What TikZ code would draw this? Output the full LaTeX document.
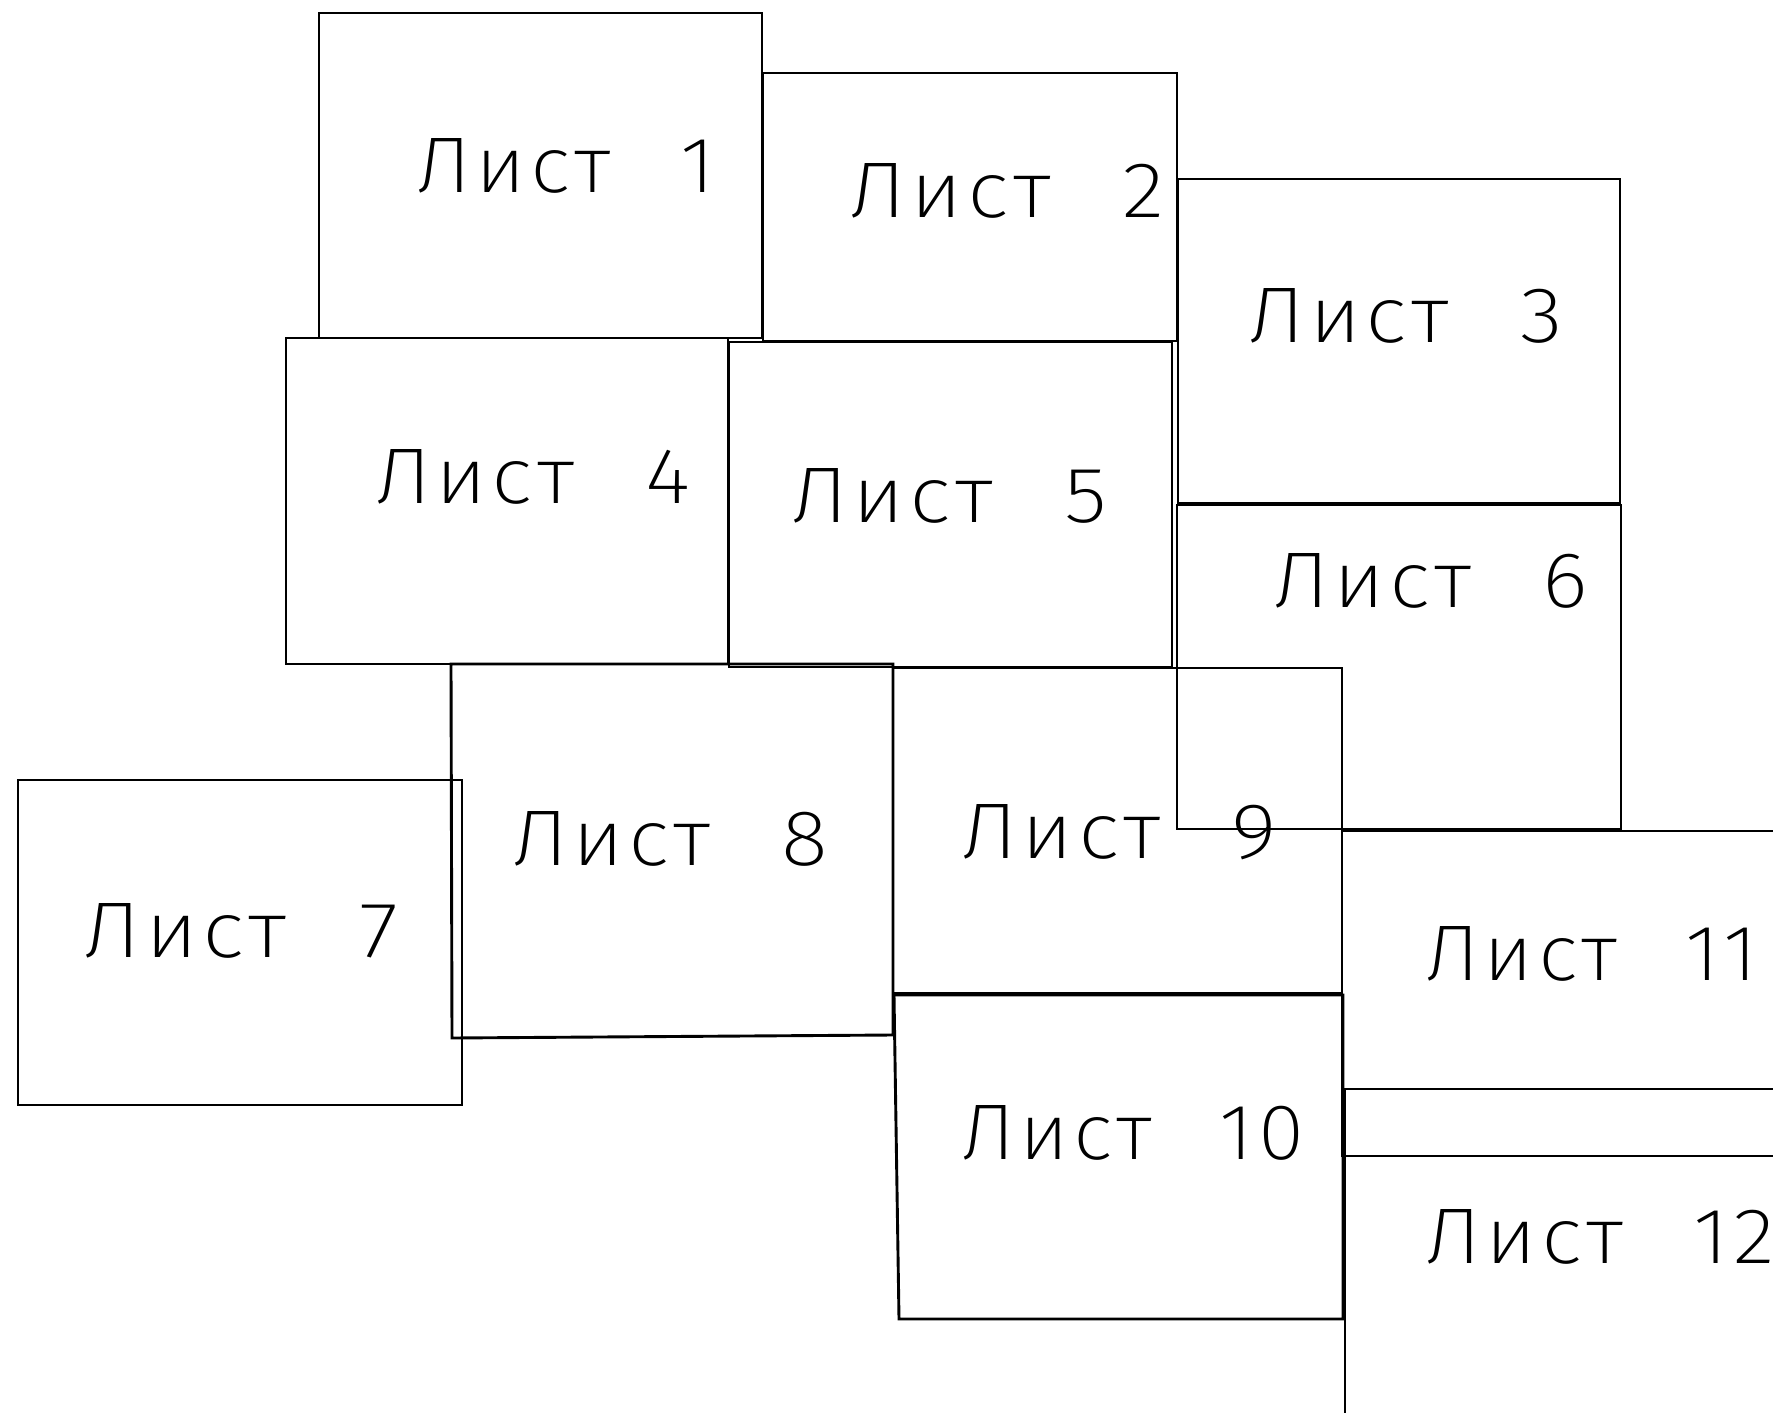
\documentclass[tikz,border=0pt]{standalone}
\usepackage{fontspec}
\IfFontExistsTF{Fira Sans ExtraLight}
  {\newfontfamily\cad[LetterSpace=5,WordSpace=2.4]{Fira Sans ExtraLight}}
  {\IfFontExistsTF{FiraSans-ExtraLight.otf}
    {\newfontfamily\cad[LetterSpace=5,WordSpace=2.4]{FiraSans-ExtraLight.otf}}
    {\newfontfamily\cad[LetterSpace=5,WordSpace=2.4]{DejaVu Sans Mono}}}
\newdimen\pxu \pxu=0.5pt
\tikzset{
  sheet/.style={draw=black, line width=1.45pt, line join=miter},
  lbl/.style={anchor=base west, inner sep=0pt, outer sep=0pt},
}
\newcommand\sheetlabel[5]{\node[lbl] (#1) at (#2,#3) {\resizebox{#4\pxu}{54\pxu}{\cad #5}};}
\begin{document}
\begin{tikzpicture}[x=0.5pt, y=-0.5pt]
\useasboundingbox (0,0) rectangle (1773,1413);
\clip (0,0) rectangle (1773,1413);
% sheets
\draw[sheet] (319,13) rectangle (762,338);          % 1
\draw[sheet] (763,73) rectangle (1177,341);         % 2
\draw[sheet] (1178,179) rectangle (1620,503);       % 3
\draw[sheet] (286,338) rectangle (728,664);         % 4
\draw[sheet] (729,342) rectangle (1172,667);        % 5
\draw[sheet] (1177,505) rectangle (1621,829);       % 6
\draw[sheet] (18,780) rectangle (462,1105);         % 7
\draw[sheet] (451,664) -- (893,664) -- (893,1035) -- (452,1038) -- cycle; % 8
\draw[sheet] (893,668) rectangle (1342,993);        % 9
\draw[sheet] (894,995) -- (1343,995) -- (1343,1319) -- (899,1319) -- cycle; % 10
\draw[sheet] (1342,831) rectangle (1800,1156);      % 11
\draw[sheet] (1345,1089) rectangle (1800,1440);     % 12
% labels
\sheetlabel{l1}{416}{193}{299}{Лист 1}
\sheetlabel{l2}{849}{218}{315}{Лист 2}
\sheetlabel{l3}{1248}{343}{315}{Лист 3}
\sheetlabel{l4}{375}{503}{315}{Лист 4}
\sheetlabel{l5}{791}{522}{316}{Лист 5}
\sheetlabel{l6}{1273}{607}{315}{Лист 6}
\sheetlabel{l7}{83}{957}{315}{Лист 7}
\sheetlabel{l8}{512}{865}{316}{Лист 8}
\sheetlabel{l9}{961}{858}{316}{Лист 9}
\sheetlabel{l10}{961}{1159}{343}{Лист 10}
\sheetlabel{l11}{1425}{980}{333}{Лист 11}
\sheetlabel{l12}{1425}{1263}{350}{Лист 12}
\end{tikzpicture}
\end{document}
